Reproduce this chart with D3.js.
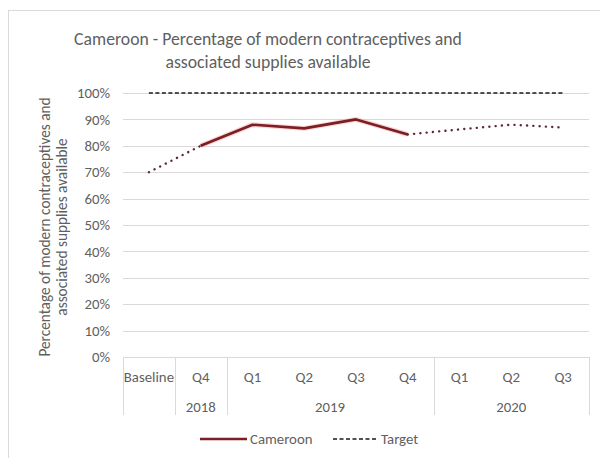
<!DOCTYPE html>
<html>
<head>
<meta charset="utf-8">
<script src="https://cdn.jsdelivr.net/npm/d3@7"></script>
<style>
  html, body { margin: 0; padding: 0; background: #fff; }
  svg { display: block; }
  text { font-family: Carlito, Calibri, "Liberation Sans Narrow", "Liberation Sans", sans-serif; fill: #5f5f5f; }
</style>
</head>
<body>
<svg id="chart" width="600" height="458"></svg>
<script>
// Quarterly availability of modern contraceptives, Cameroon
const quarters = ["Baseline", "Q4", "Q1", "Q2", "Q3", "Q4", "Q1", "Q2", "Q3"];
const years = [
  { label: "", span: 1 },
  { label: "2018", span: 1 },
  { label: "2019", span: 4 },
  { label: "2020", span: 3 }
];
const cameroon = [70, 80, 88, 86.6, 90, 84.3, 86.2, 88, 86.9];
const target = [100, 100, 100, 100, 100, 100, 100, 100, 100];
// Solid segment covers reported quarters; dotted segments are baseline link and later quarters
const solidRange = [1, 5];
const yTicks = [0, 10, 20, 30, 40, 50, 60, 70, 80, 90, 100];

const svg = d3.select("#chart");
const plot = { left: 123, right: 589, top: 93, bottom: 357 };
const labelSize = 14.8;

const x = d3.scaleBand().domain(d3.range(quarters.length)).range([plot.left, plot.right]).padding(0);
const y = d3.scaleLinear().domain([0, 100]).range([plot.bottom, plot.top]);
const cx = i => x(i) + x.bandwidth() / 2;

// Chart frame
svg.append("rect").attr("x", 8.5).attr("y", 10.5).attr("width", 600).attr("height", 460)
  .attr("fill", "none").attr("stroke", "#d9d9d9");

// Title
const title = svg.append("text").attr("text-anchor", "middle").attr("font-size", 17.7);
title.append("tspan").attr("x", 268).attr("y", 45).text("Cameroon - Percentage of modern contraceptives and");
title.append("tspan").attr("x", 268).attr("y", 68).text("associated supplies available");

// Gridlines
svg.append("g").selectAll("line").data(yTicks).join("line")
  .attr("x1", plot.left).attr("x2", plot.right)
  .attr("y1", d => Math.round(y(d)) + 0.5).attr("y2", d => Math.round(y(d)) + 0.5)
  .attr("stroke", "#d9d9d9").attr("stroke-width", 1);

// Y axis labels
const yAxis = d3.axisLeft(y).tickValues(yTicks).tickFormat(d => d + "%").tickSize(0).tickPadding(0);
const yg = svg.append("g").attr("transform", `translate(${110},0)`).call(yAxis);
yg.select(".domain").remove();
yg.selectAll("text").attr("font-size", labelSize).style("font-family", null).attr("fill", "#5f5f5f");

// Y axis title
const yt = svg.append("text").attr("text-anchor", "middle").attr("font-size", 15.3)
  .attr("transform", `translate(0,${(plot.top + plot.bottom) / 2 + 2}) rotate(-90)`);
yt.append("tspan").attr("x", 0).attr("y", 50).text("Percentage of modern contraceptives and");
yt.append("tspan").attr("x", 0).attr("y", 67).text("associated supplies available");

// Multi-level category axis
const axisG = svg.append("g");
const axisBottom = 415;
const qAxis = d3.axisBottom(x).tickFormat(i => quarters[i]).tickSize(0).tickPadding(0);
const qg = svg.append("g").attr("transform", `translate(0,${plot.bottom})`).call(qAxis);
qg.select(".domain").remove();
qg.selectAll("text").attr("dy", null).attr("y", 25).attr("font-size", labelSize)
  .style("font-family", null).attr("fill", "#5f5f5f");

let start = 0;
const boundaries = [0];
years.forEach(g => {
  const x0 = x(start), x1 = x(start + g.span - 1) + x.bandwidth();
  if (g.label) {
    axisG.append("text").attr("x", (x0 + x1) / 2).attr("y", 412).attr("text-anchor", "middle")
      .attr("font-size", labelSize).text(g.label);
  }
  start += g.span;
  boundaries.push(start);
});
axisG.selectAll("line.sep").data(boundaries).join("line").attr("class", "sep")
  .attr("x1", i => Math.round(i === quarters.length ? plot.right : x(i)) + 0.5)
  .attr("x2", i => Math.round(i === quarters.length ? plot.right : x(i)) + 0.5)
  .attr("y1", plot.bottom).attr("y2", axisBottom)
  .attr("stroke", "#d9d9d9");

// Target line
const line = d3.line().x((d, i) => cx(i)).y(d => y(d));
svg.append("path").attr("d", line(target)).attr("fill", "none")
  .attr("stroke", "#1a1a1a").attr("stroke-width", 1.3).attr("stroke-dasharray", "4,2.5");

// Cameroon series
const seg = (a, b) => d3.line().x(d => cx(d)).y(d => y(cameroon[d]))(d3.range(a, b + 1));
svg.append("path").attr("d", seg(solidRange[0], solidRange[1])).attr("fill", "none")
  .attr("stroke", "#f4a0a0").attr("stroke-width", 5).attr("stroke-opacity", 0.45).attr("stroke-linejoin", "round");
svg.append("path").attr("d", seg(solidRange[0], solidRange[1])).attr("fill", "none")
  .attr("stroke", "#7d1d24").attr("stroke-width", 2.6).attr("stroke-linejoin", "round");
[[0, solidRange[0]], [solidRange[1], quarters.length - 1]].forEach(([a, b]) => {
  svg.append("path").attr("d", seg(a, b)).attr("fill", "none")
    .attr("stroke", "#5e2a32").attr("stroke-width", 2.4).attr("stroke-linecap", "round")
    .attr("stroke-dasharray", "0.1,6.2");
});

// Legend
const lg = svg.append("g");
lg.append("line").attr("x1", 200).attr("x2", 247).attr("y1", 439).attr("y2", 439)
  .attr("stroke", "#7d1d24").attr("stroke-width", 2.6);
lg.append("text").attr("x", 250).attr("y", 444).attr("font-size", labelSize).text("Cameroon");
lg.append("line").attr("x1", 333).attr("x2", 378).attr("y1", 439).attr("y2", 439)
  .attr("stroke", "#1a1a1a").attr("stroke-width", 1.3).attr("stroke-dasharray", "4,2.5");
lg.append("text").attr("x", 381).attr("y", 444).attr("font-size", labelSize).text("Target");
</script>
</body>
</html>
